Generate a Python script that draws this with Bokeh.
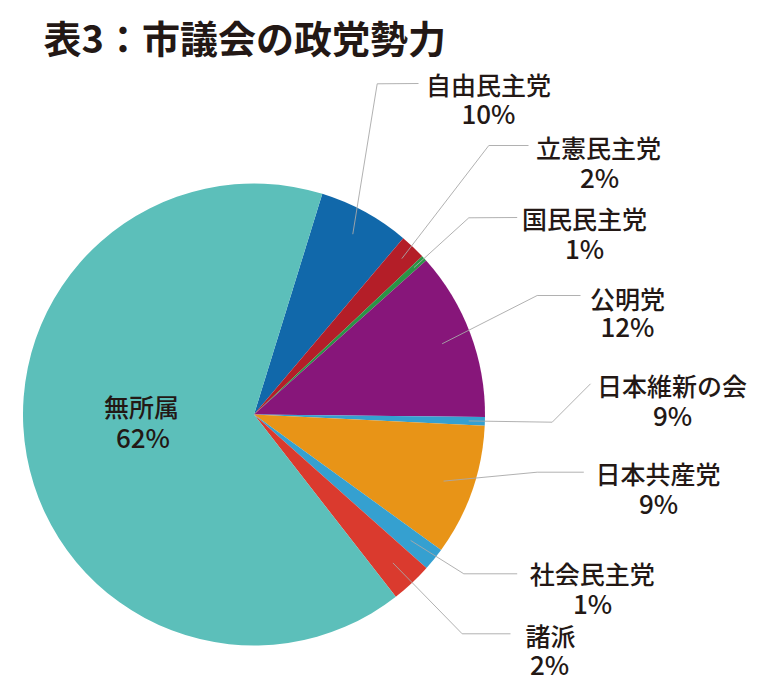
import math
from bokeh.plotting import figure
from bokeh.models import Range1d, ColumnDataSource
from bokeh.core.properties import value
from bokeh.embed import file_html
from bokeh.resources import INLINE

# ---- data ----
parties = ["自由民主党", "立憲民主党", "国民民主党", "公明党", "日本維新の会",
           "日本共産党", "社会民主党", "諸派", "無所属"]
slice_share = [6.4, 1.8, 0.4, 11.8, 0.6, 9.2, 1.6, 2.9, 65.3]
label_pct = ["10%", "2%", "1%", "12%", "9%", "9%", "1%", "2%", "62%"]

# ---- styles / layout ----
colors = ["#1168aa", "#b41e28", "#2a9446", "#87167a", "#35a0d0",
          "#e89417", "#35a0d0", "#da3a2e", "#5cbfba"]
TEXT = "#231815"
W, H = 772, 686
SCREEN_H = 692

def sy(y):
    return SCREEN_H - y

cx, cy = 253.5, sy(414)
R = 231
start_offset = 17.2  # degrees clockwise from 12 o'clock

p = figure(width=W, height=H, output_backend="svg", toolbar_location=None,
           x_range=Range1d(0, W), y_range=Range1d(SCREEN_H - H, SCREEN_H),
           min_border=0)
p.axis.visible = False
p.grid.visible = False
p.outline_line_color = None
p.background_fill_color = "white"
p.border_fill_color = "white"

total = sum(slice_share)
cum = start_offset
starts, ends, mids = [], [], []
for v in slice_share:
    a0 = cum
    a1 = cum + v / total * 360.0
    starts.append(math.radians(90 - a1))
    ends.append(math.radians(90 - a0))
    mids.append((a0 + a1) / 2)
    cum = a1

src = ColumnDataSource(dict(start=starts, end=ends, color=colors))
p.wedge(x=cx, y=cy, radius=R, radius_units="screen", start_angle="start",
        end_angle="end", fill_color="color", line_color=None, source=src)

# leader lines: inner radius fraction, elbow, end (screen coords)
leader = [
    (0.89, (376.7, 83.3), (418, 83)),
    (0.93, (488.3, 145), (528, 145)),
    (0.94, (468.3, 217.3), (516.7, 217)),
    (0.87, (536.7, 295), (580, 295)),
    (0.93, (551.7, 421.7), (590, 383.3)),
    (0.87, (536.7, 471.7), (583.3, 471.7)),
    (0.87, (463.3, 573.3), (516.7, 573.3)),
    (0.88, (461.7, 633.3), (510, 633.3)),
]
xs, ys = [], []
for i, (rf, e, f) in enumerate(leader):
    th = math.radians(mids[i])
    x0 = cx + rf * R * math.sin(th)
    y0 = cy + rf * R * math.cos(th)
    xs.append([x0, e[0], f[0]])
    ys.append([y0, sy(e[1]), sy(f[1])])
p.multi_line(xs=xs, ys=ys, line_color="#a8a8a8", line_width=0.9)

# label positions (screen coords)
name_pos = [(488, 83), (598, 146), (584, 217), (627, 297), (671.5, 384),
            (657.5, 472), (591.7, 572), (550, 634), (141, 405)]
pct_pos = [(488, 112), (599, 176), (584, 247), (627, 325), (672, 414),
           (658, 502), (592, 602), (549, 663), (142.5, 436)]

LABEL_FONT = value("'Noto Sans CJK JP Medium', 'Noto Sans CJK JP'")
FONT = value("Noto Sans CJK JP")
p.text(x=[q[0] for q in name_pos], y=[sy(q[1]) for q in name_pos], text=parties,
       text_font=LABEL_FONT, text_font_size="25px", text_color=TEXT,
       text_align="center", text_baseline="middle")
p.text(x=[q[0] for q in pct_pos], y=[sy(q[1]) for q in pct_pos], text=label_pct,
       text_font=LABEL_FONT, text_font_size="26px", text_color=TEXT,
       text_align="center", text_baseline="middle")

p.text(x=[43], y=[sy(36)], text=["表3：市議会の政党勢力"],
       text_font=FONT, text_font_size="38px", text_color=TEXT,
       text_align="left", text_baseline="middle", text_font_style="bold")

open("out.html", "w").write(file_html(p, INLINE))
